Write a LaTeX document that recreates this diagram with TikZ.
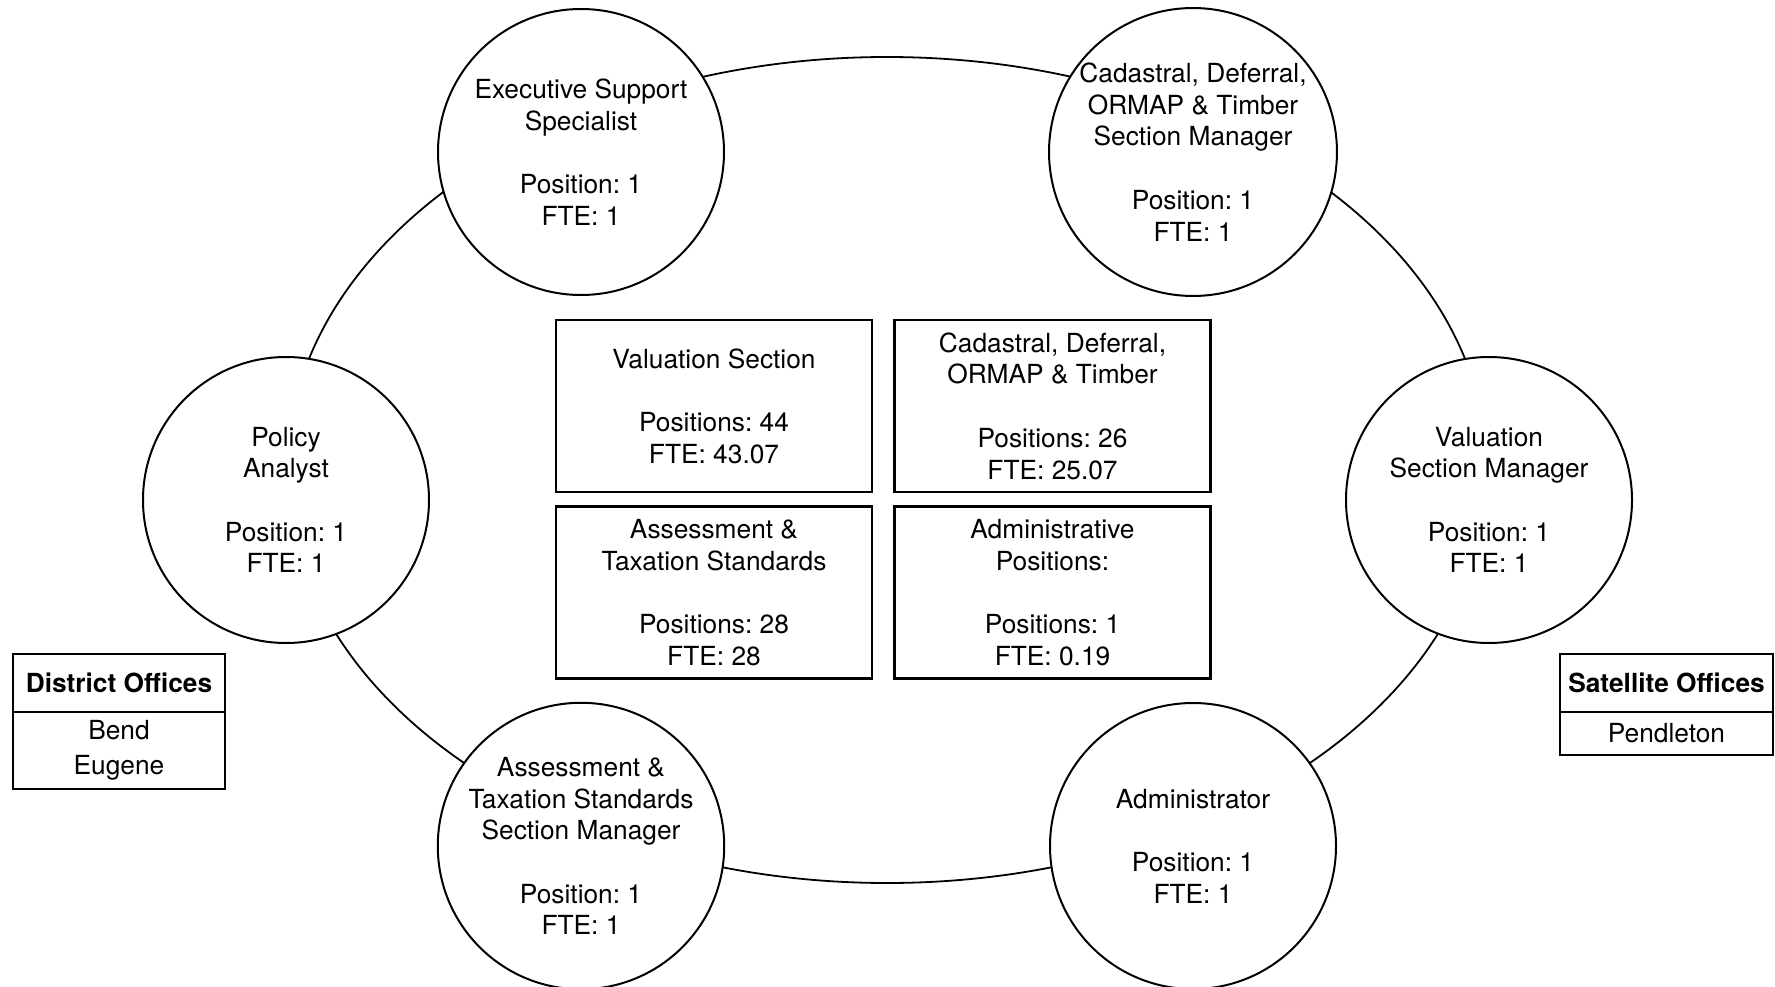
\documentclass[tikz,border=0pt]{standalone}
\usepackage{fontspec}
\setmainfont{TeX Gyre Heros}
\usetikzlibrary{shapes.geometric}
\frenchspacing
\begin{document}
\begin{tikzpicture}[x=1pt,y=-1pt,
  txt/.style={font=\fontsize{26.3}{31.7}\selectfont\frenchspacing, align=center, text=black},
  role/.style={txt, circle, draw, line width=2pt, fill=white, minimum size=286pt, inner sep=0pt},
  unit/.style={txt, rectangle, draw, line width=2.2pt, fill=white, minimum width=316pt, minimum height=172pt, inner sep=0pt},
  officehead/.style={txt, rectangle, draw, line width=1.8pt, minimum width=212pt, minimum height=58pt, inner sep=0pt, font=\fontsize{26.3}{31.7}\selectfont\frenchspacing\bfseries},
  officebody/.style={txt, rectangle, draw, line width=1.8pt, minimum width=212pt, inner sep=0pt, font=\fontsize{26.3}{35}\selectfont\frenchspacing},
]
\useasboundingbox (0,0) rectangle (1775,987);

% ring linking the six positions
\node[draw, ellipse, line width=1.8pt, minimum width=1200pt, minimum height=826pt, inner sep=0pt] (ring) at (887,470) {};

% positions around the ring
\node[role] (exec) at (581,152) {Executive Support\\Specialist\\[31.7pt]Position: 1\\FTE: 1};
\node[role] (cadmgr) at (1193,152) {Cadastral, Deferral,\\ORMAP \& Timber\\Section Manager\\[31.7pt]Position: 1\\FTE: 1};
\node[role] (policy) at (286,500) {Policy\\Analyst\\[31.7pt]Position: 1\\FTE: 1};
\node[role] (valmgr) at (1489,500) {Valuation\\Section Manager\\[31.7pt]Position: 1\\FTE: 1};
\node[role] (atsmgr) at (581,846) {Assessment \&\\Taxation Standards\\Section Manager\\[31.7pt]Position: 1\\FTE: 1};
\node[role] (admin) at (1193,846) {Administrator\\[31.7pt]Position: 1\\FTE: 1};

% sections in the middle
\node[unit] (valsec) at (714,406) {Valuation Section\\[31.7pt]Positions: 44\\FTE: 43.07};
\node[unit] (cadsec) at (1052.5,406) {Cadastral, Deferral,\\ORMAP \& Timber\\[31.7pt]Positions: 26\\FTE: 25.07};
\node[unit] (atssec) at (714,592.5) {Assessment \&\\Taxation Standards\\[31.7pt]Positions: 28\\FTE: 28};
\node[unit] (admsec) at (1052.5,592.5) {Administrative\\Positions:\\[31.7pt]Positions: 1\\FTE: 0.19};

% office lists
\node[officehead] (dhead) at (119,683) {District Offices};
\node[officebody, minimum height=77pt] (dbody) at (119,750.5) {Bend\\Eugene};
\node[officehead, minimum width=213pt] (shead) at (1666.5,683) {Satellite Offices};
\node[officebody, minimum width=213pt, minimum height=43pt] (sbody) at (1666.5,733.5) {Pendleton};
\end{tikzpicture}
\end{document}
